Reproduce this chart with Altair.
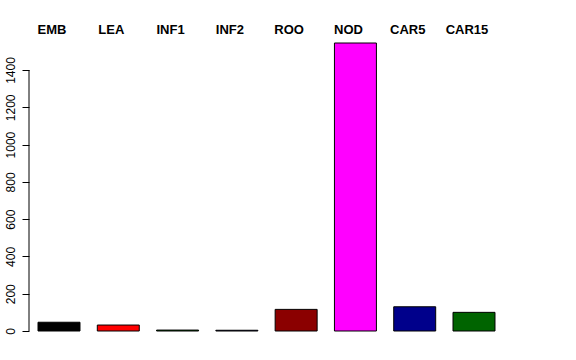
import altair as alt
import pandas as pd

categories = ["EMB", "LEA", "INF1", "INF2", "ROO", "NOD", "CAR5", "CAR15"]
values = [47, 32, 5, 4, 116, 1545, 130, 100]
colors = ["#000000", "#FF0000", "#006400", "#1E1E6E", "#8B0000", "#FF00FF", "#00008B", "#006400"]
y_ticks = [0, 200, 400, 600, 800, 1000, 1200, 1400]

df = pd.DataFrame({"cat": categories, "value": values, "color": colors})

xscale = alt.Scale(paddingInner=0.292, paddingOuter=0.152)
yscale = alt.Scale(domain=[0, 1545], nice=False, zero=True)

bars = alt.Chart(df).mark_bar(stroke="black", strokeWidth=1).encode(
    x=alt.X("cat:N", sort=categories, scale=xscale, axis=None),
    y=alt.Y("value:Q", scale=yscale,
            axis=alt.Axis(values=y_ticks, format="d", domain=False, grid=False, title=None,
                          tickSize=7, tickColor="black", tickWidth=1,
                          labelAngle=270, labelAlign="center", labelBaseline="bottom",
                          labelPadding=5, labelFont="Liberation Sans", labelFontSize=12,
                          labelColor="black", labelOverlap=False)),
    color=alt.Color("color:N", scale=None),
)

labels = alt.Chart(df).mark_text(
    align="center", baseline="alphabetic", fontWeight="bold", fontSize=13,
    font="Liberation Sans", dx=-7, color="black"
).encode(
    x=alt.X("cat:N", sort=categories, scale=xscale, axis=None),
    y=alt.value(-9),
    text="cat:N",
)

axis_line = alt.Chart(pd.DataFrame({"lo": [0], "hi": [1400]})).mark_rule(
    color="black", strokeWidth=1
).encode(
    x=alt.value(0),
    y=alt.Y("lo:Q", scale=yscale),
    y2="hi:Q",
)

chart = alt.layer(bars, axis_line, labels).properties(
    width=475, height=288,
    padding={"left": 29, "top": 43, "right": 72, "bottom": 29},
    autosize="none",
).configure_view(stroke=None)

chart.save("out.html", embed_options={"renderer": "svg", "actions": False})
